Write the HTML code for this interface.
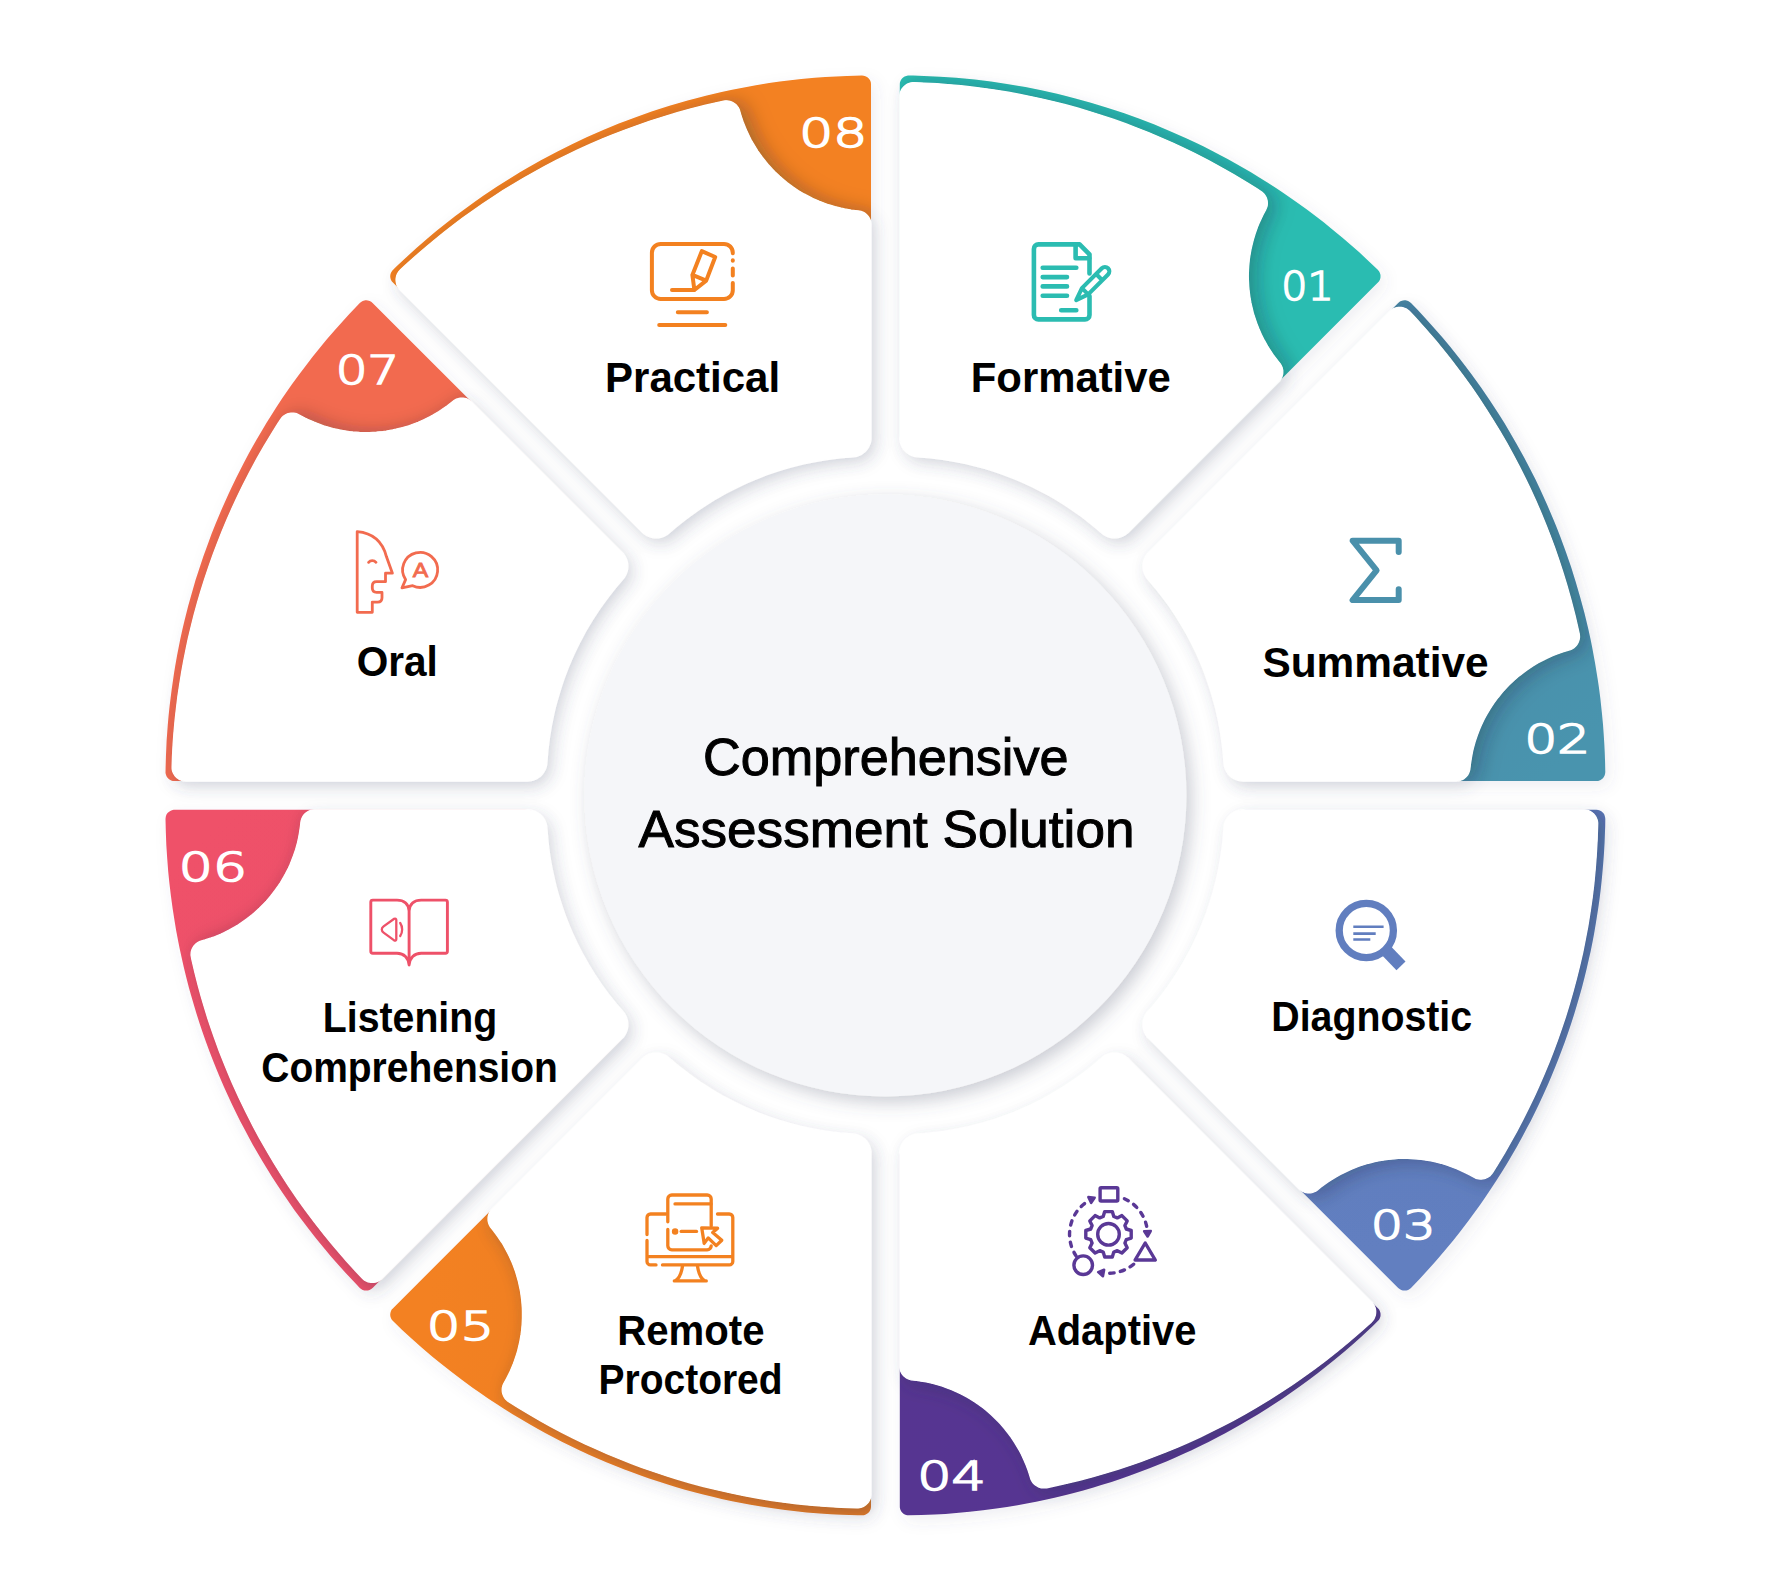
<!DOCTYPE html>
<html lang="en"><head><meta charset="utf-8"><title>Comprehensive Assessment Solution</title>
<style>html,body{margin:0;padding:0;background:#fff}body{width:1770px;height:1591px;overflow:hidden}svg{display:block}text{font-family:"Liberation Sans",sans-serif}.lb{font-weight:700;font-size:43px;fill:#000;text-anchor:middle}.ct{font-size:52.5px;fill:#000;text-anchor:middle;stroke:#000;stroke-width:1px}.nm{font-family:"DejaVu Sans Light","DejaVu Sans","Liberation Sans",sans-serif;font-weight:200;font-size:39px;fill:#fff;stroke:#fff;stroke-width:1.7px;text-anchor:middle}</style></head><body>
<svg width="1770" height="1591" viewBox="0 0 1770 1591">
<defs>
<filter id="sh" x="-10%" y="-10%" width="120%" height="120%"><feDropShadow dx="4.5" dy="5.5" stdDeviation="7.5" flood-color="#50526e" flood-opacity=".17"/></filter>
<filter id="sc" x="-10%" y="-10%" width="120%" height="120%"><feDropShadow dx="4.5" dy="5.5" stdDeviation="7.5" flood-color="#50526e" flood-opacity=".09"/></filter>
<filter id="sd" x="-10%" y="-10%" width="120%" height="120%"><feDropShadow dx="5" dy="6" stdDeviation="9" flood-color="#50526e" flood-opacity=".30"/></filter>
<linearGradient id="g0" gradientUnits="userSpaceOnUse" x1="931" y1="277" x2="1340" y2="290"><stop offset="0" stop-color="#2bbcb1"/><stop offset="1" stop-color="#2bbcb1"/></linearGradient>
<linearGradient id="g1" gradientUnits="userSpaceOnUse" x1="1284" y1="461" x2="1564" y2="760"><stop offset="0" stop-color="#4988a6"/><stop offset="1" stop-color="#4a94ae"/></linearGradient>
<linearGradient id="g2" gradientUnits="userSpaceOnUse" x1="1403" y1="841" x2="1391" y2="1250"><stop offset="0" stop-color="#5d79b9"/><stop offset="1" stop-color="#627fc0"/></linearGradient>
<linearGradient id="g3" gradientUnits="userSpaceOnUse" x1="1220" y1="1194" x2="921" y2="1475"><stop offset="0" stop-color="#5a3795"/><stop offset="1" stop-color="#563491"/></linearGradient>
<linearGradient id="g4" gradientUnits="userSpaceOnUse" x1="840" y1="1313" x2="430" y2="1301"><stop offset="0" stop-color="#e87b22"/><stop offset="1" stop-color="#f38120"/></linearGradient>
<linearGradient id="g5" gradientUnits="userSpaceOnUse" x1="487" y1="1130" x2="206" y2="831"><stop offset="0" stop-color="#ea506a"/><stop offset="1" stop-color="#ef5169"/></linearGradient>
<linearGradient id="g6" gradientUnits="userSpaceOnUse" x1="367" y1="750" x2="380" y2="340"><stop offset="0" stop-color="#f26b4f"/><stop offset="1" stop-color="#f26b4f"/></linearGradient>
<linearGradient id="g7" gradientUnits="userSpaceOnUse" x1="551" y1="397" x2="850" y2="116"><stop offset="0" stop-color="#f38120"/><stop offset="1" stop-color="#f38120"/></linearGradient>
<filter id="si" x="-15%" y="-15%" width="130%" height="130%"><feDropShadow dx="8" dy="1" stdDeviation="10" flood-color="#10202c" flood-opacity=".25"/></filter>
<path id="c0" d="M908.0,75.6 906.2,75.9 904.6,76.6 903.1,77.6 901.8,78.8 900.8,80.3 900.1,81.9 899.9,82.8 899.8,84.6 899.8,435.1 899.9,437.2 900.2,439.3 900.7,441.3 901.4,443.3 902.3,445.2 903.4,447.0 904.7,448.7 906.2,450.2 907.8,451.6 909.5,452.8 911.3,453.8 913.2,454.7 915.2,455.3 917.3,455.8 932.1,457.1 938.0,457.8 945.1,458.8 955.8,460.6 965.2,462.5 976.8,465.3 987.2,468.2 998.7,471.9 1008.8,475.5 1014.4,477.7 1021.0,480.5 1027.6,483.5 1034.1,486.5 1040.5,489.8 1045.8,492.6 1052.1,496.1 1058.3,499.8 1064.4,503.6 1069.4,506.9 1075.3,510.9 1080.2,514.4 1085.0,518.0 1090.7,522.5 1103.0,532.7 1104.8,533.9 1106.7,534.8 1108.6,535.6 1110.7,536.1 1112.7,536.5 1114.9,536.6 1117.0,536.6 1119.0,536.3 1121.1,535.8 1123.1,535.1 1125.0,534.2 1126.8,533.1 1128.5,531.9 1130.1,530.5 1377.9,282.6 1379.1,281.3 1379.9,279.7 1380.4,278.0 1380.5,277.1 1380.5,275.3 1380.4,274.4 1379.8,272.7 1379.0,271.2 1377.8,269.8 1366.9,259.4 1359.0,252.1 1350.9,245.0 1342.8,237.9 1332.4,229.4 1324.0,222.6 1315.5,216.0 1306.9,209.6 1296.0,201.7 1282.7,192.5 1276.0,188.0 1267.0,182.2 1260.1,177.9 1250.9,172.3 1236.9,164.2 1227.6,159.0 1220.4,155.2 1213.3,151.4 1203.7,146.6 1196.4,143.0 1186.7,138.5 1171.9,131.9 1162.0,127.7 1154.5,124.6 1139.5,118.8 1124.3,113.3 1116.6,110.7 1106.4,107.4 1090.9,102.7 1075.4,98.4 1065.0,95.7 1057.1,93.8 1041.4,90.3 1025.5,87.1 1017.6,85.7 1007.0,83.9 991.0,81.6 974.9,79.6 966.9,78.8 956.2,77.8 940.1,76.7 923.9,75.9 913.2,75.6Z"/>
<path id="w0" d="M912.8,82.6 911.4,82.8 910.0,83.1 908.7,83.5 907.4,84.1 906.2,84.8 905.1,85.6 904.0,86.6 903.1,87.6 902.2,88.7 901.5,89.9 900.9,91.1 900.4,92.5 900.0,93.8 899.8,95.2 899.8,96.6 899.8,437.5 899.8,439.5 900.1,441.4 900.6,443.3 901.3,445.1 902.2,446.9 903.2,448.6 904.4,450.1 905.7,451.6 907.2,452.8 908.8,454.0 910.5,454.9 912.3,455.7 914.2,456.3 916.1,456.7 918.1,457.0 924.8,457.4 930.8,458.0 942.6,459.4 954.4,461.4 966.1,463.7 977.7,466.6 984.7,468.5 990.4,470.2 997.2,472.4 1002.8,474.4 1014.0,478.7 1020.6,481.4 1026.1,483.9 1032.6,486.9 1037.9,489.6 1044.3,492.9 1049.5,495.8 1054.7,498.8 1060.8,502.5 1065.9,505.7 1071.8,509.7 1081.5,516.6 1086.3,520.3 1091.9,524.7 1096.5,528.5 1101.7,533.0 1103.2,534.2 1104.8,535.3 1106.6,536.2 1108.4,536.9 1110.3,537.4 1112.2,537.8 1114.2,537.9 1116.2,537.8 1118.1,537.6 1120.0,537.1 1121.9,536.5 1123.6,535.7 1125.3,534.7 1126.9,533.5 1128.4,532.2 1278.7,381.8 1279.7,380.8 1280.5,379.7 1281.2,378.5 1281.8,377.2 1282.2,375.9 1282.6,374.6 1282.8,373.2 1282.8,371.8 1282.8,370.4 1282.5,369.1 1282.2,367.7 1281.7,366.4 1281.1,365.2 1280.4,364.0 1277.1,359.8 1273.1,354.5 1269.5,349.1 1267.6,346.1 1264.4,340.4 1261.4,334.4 1258.7,328.3 1257.4,325.1 1256.3,322.0 1254.2,315.8 1253.2,312.4 1251.7,306.1 1250.9,302.7 1249.8,296.3 1249.0,289.5 1248.7,286.1 1248.4,279.6 1248.3,276.1 1248.5,269.6 1248.7,266.1 1249.3,259.7 1249.8,256.2 1250.9,249.8 1251.7,246.3 1253.3,239.9 1255.2,233.5 1257.4,227.4 1258.7,224.1 1261.4,218.2 1262.9,215.0 1265.6,209.9 1266.2,208.6 1266.7,207.3 1267.1,206.0 1267.3,204.6 1267.4,203.2 1267.3,201.8 1267.1,200.4 1266.7,199.0 1266.3,197.7 1265.7,196.5 1264.9,195.3 1264.1,194.2 1263.1,193.1 1262.1,192.2 1256.6,188.6 1247.7,183.0 1234.0,174.8 1222.5,168.2 1208.5,160.6 1194.4,153.3 1182.5,147.5 1172.8,143.0 1160.7,137.7 1148.5,132.6 1136.2,127.7 1126.2,123.9 1113.7,119.4 1101.2,115.2 1088.5,111.3 1078.2,108.2 1065.5,104.7 1055.1,102.1 1042.3,99.0 1031.8,96.8 1018.8,94.2 1008.3,92.2 995.2,90.1 984.6,88.6 971.5,86.9 960.9,85.7 947.7,84.5 937.0,83.7 923.7,83.0 914.2,82.6Z"/>
<clipPath id="cp0"><use href="#c0"/></clipPath>
<path id="c1" d="M1148.1,577.8 1157.6,589.2 1165.0,598.7 1172.0,608.4 1177.9,617.4 1183.5,626.7 1189.4,637.1 1194.8,647.8 1199.8,658.7 1202.6,665.3 1205.3,672.0 1207.4,677.6 1209.7,684.4 1211.9,691.3 1213.6,697.0 1215.5,704.0 1217.0,709.8 1218.3,715.6 1219.8,722.7 1221.1,729.8 1222.0,735.7 1223.0,742.8 1223.7,748.8 1224.3,754.7 1224.8,761.5 1225.1,763.6 1225.5,765.6 1226.2,767.6 1227.0,769.5 1228.1,771.4 1229.3,773.1 1230.7,774.7 1232.2,776.1 1233.9,777.4 1235.7,778.5 1237.6,779.4 1239.5,780.2 1241.6,780.7 1243.7,781.0 1245.8,781.1 1596.3,781.1 1598.1,780.9 1598.9,780.7 1600.6,780.0 1601.3,779.6 1602.7,778.4 1603.3,777.8 1603.8,777.0 1604.6,775.5 1605.1,773.7 1605.3,772.0 1605.1,762.2 1604.7,751.5 1604.3,743.4 1603.6,732.7 1603.0,724.6 1602.0,713.9 1600.3,697.9 1598.9,687.2 1597.7,679.2 1595.1,663.3 1592.2,647.4 1590.6,639.5 1588.3,629.0 1584.5,613.3 1580.3,597.7 1575.8,582.2 1571.0,566.8 1565.7,551.5 1560.1,536.3 1556.2,526.3 1553.2,518.9 1546.8,504.0 1540.1,489.3 1535.5,479.6 1531.9,472.4 1524.4,458.1 1516.6,443.9 1508.5,429.9 1504.4,423.0 1498.7,413.9 1489.9,400.4 1480.7,387.0 1471.3,373.9 1466.4,367.5 1459.9,359.0 1449.8,346.3 1442.9,338.1 1437.6,331.9 1430.5,323.9 1425.1,317.9 1417.8,310.0 1411.0,303.0 1409.7,301.9 1408.1,301.0 1407.3,300.7 1405.5,300.3 1404.6,300.3 1402.9,300.5 1401.2,301.0 1400.4,301.3 1399.6,301.8 1398.2,302.9 1150.4,550.8 1149.0,552.3 1147.7,554.0 1146.6,555.9 1145.7,557.8 1145.1,559.8 1144.6,561.8 1144.3,563.9 1144.2,566.0 1144.4,568.1 1144.7,570.2 1145.3,572.2 1146.0,574.2 1147.0,576.1Z"/>
<path id="w1" d="M1146.6,577.7 1155.3,588.0 1162.7,597.4 1169.1,606.0 1175.1,615.0 1181.4,625.1 1186.8,634.4 1191.8,643.9 1196.5,653.6 1199.4,660.2 1202.2,666.8 1204.8,673.5 1207.2,680.2 1209.5,687.0 1211.7,693.9 1213.6,700.8 1215.5,707.7 1217.1,714.7 1218.4,720.5 1219.7,727.6 1220.7,733.5 1221.7,740.6 1222.6,747.7 1223.3,754.8 1223.9,762.8 1224.1,764.7 1224.5,766.7 1225.1,768.5 1225.9,770.3 1226.9,772.0 1228.0,773.6 1229.3,775.1 1230.7,776.5 1232.3,777.7 1234.0,778.7 1235.7,779.5 1237.6,780.2 1239.5,780.7 1241.4,781.0 1243.4,781.1 1456.0,781.1 1457.4,781.0 1458.8,780.8 1460.1,780.5 1461.4,780.0 1462.7,779.4 1463.8,778.7 1464.9,777.9 1466.0,776.9 1466.9,775.9 1467.7,774.8 1468.4,773.6 1469.0,772.3 1469.4,771.0 1469.8,769.7 1470.4,764.4 1471.4,757.8 1472.6,751.4 1473.4,748.0 1475.2,741.5 1477.3,735.4 1479.7,729.1 1481.0,725.9 1483.8,720.0 1485.4,716.9 1487.1,714.0 1490.4,708.4 1494.2,702.7 1498.1,697.5 1500.3,694.8 1502.4,692.2 1506.8,687.4 1509.2,684.9 1514.0,680.4 1519.1,675.9 1524.3,671.9 1527.0,670.0 1532.5,666.2 1538.2,662.8 1541.3,661.1 1547.3,658.1 1553.2,655.5 1556.5,654.2 1562.8,651.9 1570.4,649.6 1571.6,649.1 1572.8,648.5 1573.9,647.7 1574.9,646.9 1575.9,645.9 1576.7,644.9 1577.5,643.8 1578.1,642.6 1578.6,641.4 1579.0,640.1 1579.3,638.8 1579.5,637.5 1579.5,636.2 1579.4,634.8 1579.2,633.5 1576.9,623.4 1575.1,615.7 1571.1,600.2 1566.8,584.9 1562.9,572.2 1558.8,559.6 1554.5,547.1 1549.8,534.6 1545.9,524.7 1540.9,512.4 1535.6,500.3 1530.1,488.2 1525.4,478.6 1519.5,466.7 1513.3,455.0 1506.9,443.3 1500.2,431.8 1493.3,420.5 1486.2,409.2 1478.9,398.1 1471.4,387.1 1463.6,376.3 1457.2,367.8 1450.8,359.4 1445.8,353.1 1435.7,340.7 1425.2,328.6 1414.5,316.7 1409.8,311.7 1408.8,310.7 1407.7,309.9 1406.5,309.1 1405.3,308.5 1404.0,308.0 1402.6,307.6 1401.2,307.4 1399.8,307.3 1398.4,307.4 1397.1,307.6 1395.7,307.9 1394.4,308.3 1393.1,308.9 1391.9,309.6 1390.8,310.5 1389.7,311.4 1148.7,552.5 1147.3,553.9 1146.2,555.5 1145.2,557.2 1144.4,559.0 1143.7,560.8 1143.3,562.8 1143.0,564.7 1143.0,566.7 1143.1,568.6 1143.4,570.6 1144.0,572.4 1144.7,574.3 1145.6,576.0Z"/>
<clipPath id="cp1"><use href="#c1"/></clipPath>
<path id="c2" d="M1398.2,1288.0 1399.6,1289.1 1401.2,1289.9 1402.9,1290.4 1404.6,1290.6 1406.4,1290.4 1408.1,1289.9 1409.7,1289.0 1411.0,1287.9 1419.6,1278.9 1428.7,1269.0 1435.9,1261.0 1444.6,1250.8 1453.2,1240.4 1459.9,1231.9 1468.1,1221.3 1474.5,1212.6 1480.7,1203.9 1485.3,1197.2 1491.3,1188.3 1497.2,1179.3 1502.9,1170.2 1507.2,1163.3 1512.6,1154.0 1516.7,1147.0 1521.9,1137.6 1526.9,1128.1 1530.7,1120.9 1535.5,1111.3 1539.0,1104.0 1543.5,1094.3 1547.9,1084.4 1551.1,1077.0 1555.2,1067.1 1558.2,1059.6 1562.0,1049.5 1564.8,1041.9 1568.4,1031.8 1571.0,1024.1 1574.2,1013.9 1576.6,1006.1 1579.6,995.8 1581.8,988.0 1584.5,977.6 1586.4,969.8 1588.8,959.3 1590.6,951.4 1592.7,940.9 1594.2,932.9 1596.0,922.3 1598.1,909.0 1599.6,898.4 1600.9,887.7 1602.0,877.0 1603.2,863.6 1604.0,852.8 1604.6,842.1 1605.2,825.9 1605.3,818.9 1605.1,817.2 1604.6,815.4 1604.3,814.6 1603.3,813.1 1602.7,812.5 1601.3,811.3 1599.8,810.5 1598.1,810.0 1596.3,809.8 1245.8,809.8 1243.7,809.9 1241.6,810.2 1239.5,810.7 1237.6,811.5 1235.7,812.4 1233.9,813.5 1232.2,814.8 1230.7,816.2 1229.3,817.8 1228.1,819.5 1227.0,821.4 1226.2,823.3 1225.5,825.3 1225.1,827.3 1223.7,842.1 1222.9,849.2 1222.1,855.2 1220.5,864.7 1218.4,875.2 1215.9,885.7 1212.6,897.3 1209.0,908.7 1205.3,918.9 1202.7,925.5 1199.9,932.2 1196.9,938.7 1194.3,944.1 1191.6,949.5 1188.3,955.9 1184.7,962.1 1181.1,968.3 1177.3,974.4 1174.0,979.5 1169.9,985.4 1166.4,990.3 1162.1,996.0 1158.4,1000.7 1148.1,1013.1 1147.0,1014.8 1146.0,1016.7 1145.3,1018.7 1144.7,1020.7 1144.4,1022.8 1144.2,1024.9 1144.3,1027.0 1144.6,1029.1 1145.1,1031.1 1145.7,1033.1 1146.6,1035.0 1147.7,1036.9 1149.0,1038.6 1150.4,1040.1Z"/>
<path id="w2" d="M1299.0,1188.8 1300.1,1189.7 1301.2,1190.5 1302.4,1191.2 1303.6,1191.8 1304.9,1192.3 1306.3,1192.6 1307.6,1192.8 1309.0,1192.9 1310.4,1192.8 1311.8,1192.6 1313.1,1192.2 1314.4,1191.8 1315.7,1191.2 1316.8,1190.4 1321.0,1187.1 1326.2,1183.2 1329.1,1181.3 1334.8,1177.7 1340.4,1174.5 1343.6,1172.9 1349.4,1170.1 1352.7,1168.7 1358.9,1166.3 1365.1,1164.3 1368.4,1163.3 1374.7,1161.7 1378.2,1161.0 1384.6,1159.9 1388.1,1159.4 1394.5,1158.8 1398.0,1158.5 1404.5,1158.4 1408.0,1158.4 1414.7,1158.8 1421.4,1159.4 1427.8,1160.4 1431.2,1161.0 1437.6,1162.4 1441.0,1163.3 1447.2,1165.2 1450.5,1166.4 1456.6,1168.7 1459.8,1170.1 1465.7,1172.9 1468.8,1174.5 1474.9,1177.8 1476.1,1178.4 1477.4,1178.7 1478.7,1179.0 1480.1,1179.1 1481.4,1179.1 1482.7,1179.0 1484.1,1178.7 1485.3,1178.4 1486.6,1177.8 1487.8,1177.2 1488.9,1176.5 1490.0,1175.7 1490.9,1174.7 1491.8,1173.7 1492.6,1172.6 1498.0,1164.0 1504.8,1152.6 1510.1,1143.3 1516.6,1131.6 1522.7,1119.9 1528.7,1108.0 1534.5,1096.0 1538.9,1086.3 1544.2,1074.1 1549.3,1061.8 1553.2,1051.8 1557.8,1039.4 1561.3,1029.3 1565.5,1016.7 1569.4,1004.0 1573.1,991.2 1576.5,978.4 1579.7,965.5 1582.7,952.5 1585.3,939.4 1587.8,926.3 1590.3,910.6 1592.2,897.4 1593.8,884.2 1595.3,868.3 1596.3,855.0 1597.2,839.1 1597.7,824.1 1597.7,822.7 1597.5,821.3 1597.2,820.0 1596.7,818.7 1596.1,817.4 1595.4,816.2 1594.6,815.1 1593.7,814.0 1592.7,813.1 1591.6,812.2 1590.4,811.5 1589.1,810.9 1587.8,810.4 1586.5,810.1 1585.1,809.9 1583.7,809.8 1243.4,809.8 1241.4,809.9 1239.5,810.2 1237.6,810.7 1235.7,811.4 1234.0,812.2 1232.3,813.3 1230.7,814.4 1229.3,815.8 1228.0,817.3 1226.9,818.9 1225.9,820.6 1225.1,822.4 1224.5,824.2 1224.1,826.2 1222.9,840.8 1222.2,846.7 1221.2,853.8 1220.1,860.9 1218.8,868.0 1217.6,873.8 1216.0,880.8 1213.0,892.4 1209.9,902.7 1206.5,912.9 1202.6,922.9 1199.9,929.6 1197.5,935.0 1194.5,941.5 1191.8,946.9 1188.5,953.3 1185.6,958.5 1182.7,963.7 1179.0,969.8 1175.8,974.9 1171.8,980.9 1167.7,986.8 1164.2,991.6 1160.6,996.3 1156.1,1002.0 1152.3,1006.6 1147.8,1011.7 1146.6,1013.2 1145.6,1014.9 1144.7,1016.6 1144.0,1018.5 1143.4,1020.4 1143.1,1022.3 1143.0,1024.2 1143.0,1026.2 1143.3,1028.1 1143.7,1030.1 1144.4,1031.9 1145.2,1033.7 1146.2,1035.4 1147.3,1037.0 1148.7,1038.4Z"/>
<clipPath id="cp2"><use href="#c2"/></clipPath>
<path id="c3" d="M899.8,1506.3 899.9,1508.1 900.4,1509.8 901.3,1511.4 902.4,1512.7 903.8,1513.9 905.4,1514.7 907.1,1515.2 908.9,1515.3 921.3,1515.1 934.7,1514.5 945.5,1513.9 958.9,1512.8 969.6,1511.8 983.0,1510.3 996.3,1508.6 1007.0,1507.0 1017.6,1505.2 1028.1,1503.3 1036.1,1501.7 1046.6,1499.5 1054.5,1497.7 1064.9,1495.2 1072.8,1493.2 1083.2,1490.4 1093.5,1487.4 1101.3,1485.1 1111.5,1481.9 1121.7,1478.5 1129.4,1475.8 1139.5,1472.1 1149.5,1468.3 1157.0,1465.3 1167.0,1461.2 1174.4,1458.0 1184.2,1453.6 1191.6,1450.2 1201.2,1445.5 1208.5,1441.9 1218.0,1437.0 1225.2,1433.2 1234.6,1428.0 1241.6,1424.0 1250.9,1418.6 1257.8,1414.4 1266.9,1408.7 1273.8,1404.3 1282.7,1398.4 1289.4,1393.8 1300.4,1386.1 1309.0,1379.7 1317.6,1373.2 1326.1,1366.6 1334.5,1359.8 1344.8,1351.2 1352.9,1344.2 1361.0,1337.0 1372.8,1325.9 1377.8,1321.1 1379.0,1319.7 1379.8,1318.2 1380.4,1316.5 1380.5,1315.6 1380.5,1313.8 1380.4,1312.9 1379.9,1311.2 1379.1,1309.6 1377.9,1308.3 1130.1,1060.4 1128.5,1059.0 1126.8,1057.8 1125.0,1056.7 1123.1,1055.8 1121.1,1055.1 1119.0,1054.6 1117.0,1054.3 1114.8,1054.3 1112.7,1054.4 1110.7,1054.8 1108.6,1055.3 1106.7,1056.1 1104.8,1057.0 1103.0,1058.2 1091.6,1067.7 1086.0,1072.1 1081.2,1075.7 1073.4,1081.3 1064.4,1087.3 1054.2,1093.6 1044.8,1098.9 1034.1,1104.3 1024.3,1108.9 1017.7,1111.8 1011.1,1114.5 1004.3,1117.0 998.7,1119.0 991.9,1121.3 986.1,1123.0 979.2,1125.0 972.2,1126.8 966.4,1128.1 959.3,1129.6 953.5,1130.7 946.4,1131.9 940.4,1132.8 933.3,1133.6 917.3,1135.1 915.2,1135.6 913.2,1136.2 911.3,1137.1 909.5,1138.1 907.8,1139.3 906.2,1140.7 904.7,1142.2 903.4,1143.9 902.3,1145.7 901.4,1147.6 900.7,1149.6 900.2,1151.6 899.9,1153.7 899.8,1155.8Z"/>
<path id="w3" d="M899.8,1366.1 899.8,1367.4 900.0,1368.8 900.4,1370.2 900.8,1371.5 901.4,1372.7 902.1,1373.9 903.0,1375.0 903.9,1376.0 904.9,1376.9 906.1,1377.8 907.3,1378.5 908.5,1379.0 909.8,1379.5 911.2,1379.8 916.5,1380.4 922.9,1381.4 926.4,1382.0 932.9,1383.5 939.1,1385.2 942.5,1386.3 945.6,1387.4 951.7,1389.7 957.8,1392.4 961.0,1394.0 966.7,1397.0 969.7,1398.8 975.2,1402.3 978.1,1404.3 983.4,1408.1 986.1,1410.3 991.0,1414.6 993.6,1417.0 998.2,1421.6 1000.6,1424.1 1004.8,1429.1 1008.9,1434.3 1011.0,1437.2 1014.6,1442.6 1016.4,1445.6 1019.7,1451.2 1021.3,1454.3 1024.0,1460.2 1025.4,1463.4 1027.8,1469.5 1028.9,1472.8 1030.9,1479.2 1031.5,1480.5 1032.2,1481.7 1033.0,1482.8 1033.9,1483.9 1035.0,1484.8 1036.1,1485.6 1037.3,1486.3 1038.5,1486.9 1039.8,1487.4 1041.2,1487.8 1042.5,1488.0 1043.9,1488.0 1045.3,1488.0 1046.7,1487.8 1054.5,1486.1 1067.5,1483.2 1080.3,1480.1 1093.1,1476.7 1105.9,1473.0 1118.5,1469.1 1131.1,1464.9 1141.2,1461.4 1153.6,1456.8 1165.9,1452.0 1178.2,1446.9 1188.0,1442.6 1200.1,1437.1 1212.0,1431.3 1221.6,1426.5 1233.3,1420.4 1245.0,1413.9 1256.6,1407.2 1270.2,1399.0 1281.5,1391.8 1292.6,1384.4 1303.6,1376.8 1314.4,1369.0 1325.1,1361.0 1337.7,1351.1 1348.0,1342.6 1360.2,1332.1 1371.2,1322.2 1372.2,1321.2 1373.1,1320.1 1373.9,1318.9 1374.5,1317.6 1375.0,1316.3 1375.4,1315.0 1375.6,1313.6 1375.7,1312.2 1375.7,1310.8 1375.5,1309.4 1375.2,1308.0 1374.7,1306.7 1374.1,1305.4 1373.4,1304.2 1372.6,1303.0 1371.6,1302.0 1128.4,1058.7 1126.9,1057.4 1125.3,1056.2 1123.6,1055.2 1121.9,1054.4 1120.0,1053.8 1118.1,1053.3 1116.2,1053.1 1114.2,1053.0 1112.2,1053.1 1110.3,1053.5 1108.4,1054.0 1106.6,1054.7 1104.8,1055.6 1103.2,1056.7 1092.0,1066.1 1087.3,1069.9 1081.6,1074.2 1076.8,1077.7 1070.9,1081.8 1064.9,1085.8 1058.8,1089.6 1049.6,1095.1 1040.1,1100.2 1030.5,1105.0 1019.6,1109.9 1014.1,1112.2 1007.4,1114.8 1001.8,1116.9 995.0,1119.2 988.1,1121.4 982.4,1123.1 976.6,1124.6 969.7,1126.4 962.7,1127.9 956.8,1129.1 950.9,1130.2 943.9,1131.3 937.9,1132.1 930.8,1132.9 924.9,1133.5 918.1,1133.9 916.1,1134.2 914.2,1134.6 912.3,1135.2 910.5,1136.0 908.8,1136.9 907.2,1138.1 905.7,1139.3 904.4,1140.8 903.2,1142.3 902.2,1144.0 901.3,1145.8 900.6,1147.6 900.1,1149.5 899.8,1151.4 899.8,1153.4Z"/>
<clipPath id="cp3"><use href="#c3"/></clipPath>
<path id="c4" d="M392.3,1308.9 391.7,1309.6 390.9,1311.2 390.4,1312.9 390.2,1314.7 390.4,1316.5 391.0,1318.2 391.8,1319.7 393.0,1321.1 401.9,1329.7 411.8,1338.8 421.9,1347.7 432.1,1356.4 440.5,1363.2 451.0,1371.6 461.8,1379.7 472.6,1387.7 479.2,1392.3 488.1,1398.4 497.0,1404.3 503.9,1408.7 513.0,1414.4 519.9,1418.6 529.2,1424.0 536.2,1428.0 545.6,1433.2 552.8,1437.0 562.3,1441.9 569.6,1445.5 579.3,1450.2 589.0,1454.7 596.4,1458.0 606.3,1462.2 613.8,1465.3 623.8,1469.2 631.3,1472.1 641.4,1475.8 649.1,1478.5 659.3,1481.8 667.0,1484.3 677.3,1487.4 685.0,1489.7 695.4,1492.5 703.2,1494.5 713.7,1497.1 721.6,1498.9 732.1,1501.2 740.0,1502.8 750.6,1504.7 761.2,1506.5 774.5,1508.6 785.2,1510.0 795.9,1511.3 806.6,1512.4 819.9,1513.5 830.7,1514.2 841.5,1514.8 857.6,1515.3 861.9,1515.3 863.7,1515.2 864.6,1515.0 866.2,1514.3 867.7,1513.3 868.4,1512.7 869.5,1511.4 870.4,1509.8 870.9,1508.1 871.0,1506.3 871.0,1155.8 870.9,1153.7 870.6,1151.6 870.1,1149.6 869.4,1147.6 868.5,1145.7 867.4,1143.9 866.1,1142.2 864.6,1140.7 863.0,1139.3 861.3,1138.1 859.5,1137.1 857.6,1136.2 855.6,1135.6 853.5,1135.1 838.7,1133.8 831.6,1132.9 825.7,1132.1 816.2,1130.5 805.6,1128.4 794.0,1125.6 783.6,1122.7 772.1,1119.0 762.0,1115.4 755.3,1112.7 748.7,1109.9 742.1,1106.9 736.7,1104.4 731.3,1101.7 725.0,1098.3 718.7,1094.8 712.5,1091.1 706.4,1087.3 701.4,1084.0 696.4,1080.7 690.6,1076.5 684.8,1072.2 680.1,1068.4 667.8,1058.2 666.0,1057.0 664.1,1056.1 662.2,1055.3 660.1,1054.8 658.1,1054.4 655.9,1054.3 653.8,1054.3 651.8,1054.6 649.7,1055.1 647.7,1055.8 645.8,1056.7 644.0,1057.8 642.3,1059.0 640.7,1060.4Z"/>
<path id="w4" d="M491.1,1210.1 490.3,1211.2 489.6,1212.4 489.0,1213.7 488.6,1215.0 488.2,1216.3 488.0,1217.7 488.0,1219.1 488.0,1220.5 488.3,1221.8 488.6,1223.2 489.1,1224.5 489.7,1225.7 490.4,1226.9 493.7,1231.1 497.6,1236.3 501.3,1241.8 503.2,1244.8 504.8,1247.7 507.9,1253.5 509.4,1256.6 512.1,1262.6 513.4,1265.8 515.6,1271.9 516.6,1275.3 518.4,1281.7 519.8,1288.1 520.5,1291.5 521.4,1297.9 521.8,1301.4 522.3,1307.9 522.4,1311.4 522.4,1318.1 522.1,1324.6 521.5,1331.2 521.0,1334.7 519.9,1341.1 519.1,1344.6 517.6,1350.9 516.6,1354.2 514.5,1360.4 513.3,1363.7 510.8,1369.7 509.4,1372.9 506.4,1378.7 503.5,1384.1 503.0,1385.3 502.6,1386.6 502.3,1387.9 502.2,1389.3 502.2,1390.6 502.3,1391.9 502.6,1393.3 503.0,1394.5 503.5,1395.8 504.1,1397.0 504.8,1398.1 505.6,1399.2 506.6,1400.1 507.6,1401.0 508.7,1401.8 517.4,1407.2 528.7,1414.1 540.2,1420.7 549.6,1425.9 561.3,1432.1 573.2,1438.1 585.1,1443.9 594.8,1448.3 607.0,1453.7 619.3,1458.8 631.6,1463.6 641.6,1467.4 654.2,1471.8 666.8,1475.9 677.0,1479.1 689.7,1482.8 702.6,1486.3 715.5,1489.5 731.0,1493.0 744.0,1495.7 757.2,1498.1 770.3,1500.3 783.5,1502.2 796.7,1503.8 812.5,1505.4 825.9,1506.5 841.7,1507.4 856.7,1507.9 858.1,1507.9 859.5,1507.7 860.8,1507.4 862.2,1506.9 863.4,1506.4 864.6,1505.7 865.8,1504.8 866.8,1503.9 867.8,1502.9 868.6,1501.8 869.3,1500.6 870.0,1499.3 870.4,1498.0 870.8,1496.7 871.0,1495.3 871.0,1493.9 871.0,1153.4 871.0,1151.4 870.7,1149.5 870.2,1147.6 869.5,1145.8 868.6,1144.0 867.6,1142.3 866.4,1140.8 865.1,1139.3 863.6,1138.1 862.0,1136.9 860.3,1136.0 858.5,1135.2 856.6,1134.6 854.7,1134.2 840.0,1132.9 832.9,1132.1 827.0,1131.3 819.9,1130.2 812.9,1128.9 807.0,1127.7 800.0,1126.1 789.6,1123.4 779.3,1120.3 768.0,1116.5 757.9,1112.7 751.3,1109.9 745.8,1107.5 740.4,1105.0 733.9,1101.9 728.6,1099.1 722.3,1095.7 717.1,1092.7 711.0,1089.0 706.0,1085.8 700.0,1081.9 695.1,1078.5 689.3,1074.3 684.5,1070.6 678.9,1066.2 674.3,1062.4 669.1,1057.9 667.6,1056.7 666.0,1055.6 664.2,1054.7 662.4,1054.0 660.5,1053.5 658.6,1053.1 656.6,1053.0 654.6,1053.1 652.7,1053.3 650.8,1053.8 648.9,1054.4 647.2,1055.2 645.5,1056.2 643.9,1057.4 642.4,1058.7 492.1,1209.1Z"/>
<clipPath id="cp4"><use href="#c4"/></clipPath>
<path id="c5" d="M173.6,809.8 171.9,810.2 170.2,810.9 168.8,811.9 167.5,813.1 166.5,814.6 165.9,816.3 165.7,817.2 165.5,818.9 165.8,831.3 166.3,844.8 167.2,858.2 168.2,871.6 169.3,882.3 170.9,895.7 172.7,909.0 174.8,922.3 176.1,930.3 178.1,940.8 179.7,948.8 182.0,959.3 183.8,967.2 186.3,977.6 189.0,988.0 191.2,995.8 194.2,1006.1 196.6,1013.9 199.8,1024.1 202.4,1031.8 206.0,1042.0 209.7,1052.0 212.6,1059.6 216.6,1069.5 219.7,1077.0 224.0,1086.9 227.3,1094.3 231.8,1104.0 235.3,1111.3 240.1,1120.9 243.9,1128.1 248.9,1137.6 252.8,1144.7 258.2,1154.0 262.3,1161.0 267.8,1170.1 272.1,1177.0 278.0,1186.0 282.5,1192.8 288.5,1201.6 294.7,1210.4 301.1,1219.1 309.3,1229.8 315.9,1238.3 322.7,1246.6 331.4,1256.9 338.5,1265.0 345.7,1273.0 356.8,1284.8 359.8,1287.9 361.1,1289.0 362.7,1289.9 364.4,1290.4 365.3,1290.6 367.0,1290.6 367.9,1290.4 369.6,1289.9 371.2,1289.1 372.6,1288.0 620.4,1040.1 621.8,1038.6 623.1,1036.9 624.2,1035.0 625.1,1033.1 625.7,1031.1 626.2,1029.1 626.5,1027.0 626.6,1024.9 626.4,1022.8 626.1,1020.7 625.5,1018.7 624.8,1016.7 623.8,1014.8 622.7,1013.1 613.2,1001.7 608.7,996.0 605.1,991.3 599.5,983.5 593.6,974.5 587.3,964.2 582.0,954.8 577.0,945.2 571.9,934.4 569.1,927.8 566.4,921.1 563.8,914.4 561.8,908.7 559.6,901.9 557.8,896.2 555.9,889.2 554.1,882.3 552.7,876.4 551.2,869.4 550.1,863.5 548.9,856.4 548.1,850.5 547.2,843.3 545.7,827.3 545.3,825.3 544.6,823.3 543.8,821.4 542.7,819.5 541.5,817.8 540.1,816.2 538.6,814.8 536.9,813.5 535.1,812.4 533.2,811.5 531.3,810.7 529.2,810.2 527.1,809.9 525.0,809.8Z"/>
<path id="w5" d="M200.2,941.3 199.0,941.9 197.8,942.5 196.7,943.3 195.6,944.1 194.7,945.1 193.8,946.1 193.1,947.2 192.4,948.4 191.9,949.6 191.5,950.9 191.2,952.2 191.1,953.5 191.0,954.9 191.2,956.2 191.9,959.8 194.9,972.7 198.2,985.6 201.0,995.8 203.2,1003.4 207.9,1018.7 211.3,1028.7 213.9,1036.2 219.3,1051.2 225.2,1066.1 229.2,1075.8 232.4,1083.2 239.0,1097.7 245.9,1112.1 253.1,1126.2 259.4,1137.9 267.3,1151.8 274.1,1163.2 281.1,1174.5 288.3,1185.6 297.3,1198.8 305.0,1209.6 314.6,1222.4 324.4,1234.9 331.1,1243.1 336.2,1249.2 346.7,1261.3 355.6,1271.1 362.2,1278.1 363.2,1279.1 364.3,1279.9 365.5,1280.7 366.7,1281.3 368.0,1281.8 369.4,1282.1 370.8,1282.3 372.1,1282.4 373.5,1282.4 374.9,1282.2 376.3,1281.9 377.6,1281.4 378.9,1280.8 380.1,1280.1 381.2,1279.3 382.2,1278.3 622.1,1038.4 623.5,1037.0 624.6,1035.4 625.6,1033.7 626.4,1031.9 627.1,1030.1 627.5,1028.1 627.8,1026.2 627.8,1024.2 627.7,1022.3 627.4,1020.3 626.8,1018.5 626.1,1016.6 625.2,1014.9 624.2,1013.2 623.0,1011.7 615.5,1002.9 608.1,993.5 601.7,984.9 595.0,974.9 588.8,964.8 582.9,954.4 577.4,943.7 572.4,932.9 569.5,926.3 566.9,919.7 564.8,914.1 562.4,907.3 560.2,900.5 558.1,893.6 556.2,886.7 554.8,880.9 552.2,869.2 551.1,863.3 549.9,856.3 548.9,849.2 548.1,842.0 546.7,826.2 546.3,824.2 545.7,822.4 544.9,820.6 543.9,818.9 542.8,817.3 541.5,815.8 540.1,814.4 538.5,813.2 536.8,812.2 535.1,811.4 533.2,810.7 531.3,810.2 529.4,809.9 527.4,809.8 314.8,809.8 313.4,809.9 312.0,810.1 310.7,810.4 309.4,810.9 308.1,811.5 307.0,812.2 305.9,813.0 304.8,814.0 303.9,815.0 303.1,816.1 302.4,817.3 301.8,818.6 301.4,819.9 301.0,821.2 300.4,826.5 299.4,833.1 298.2,839.5 297.4,842.9 295.6,849.4 293.5,855.5 291.1,861.8 289.8,865.0 288.4,868.0 285.4,873.8 283.7,876.9 280.4,882.5 278.5,885.4 274.7,890.7 270.5,896.1 266.3,901.1 263.9,903.6 259.3,908.2 254.4,912.7 251.7,915.0 246.5,919.0 243.7,921.0 238.3,924.7 235.3,926.5 229.5,929.8 223.7,932.7 220.5,934.2 214.5,936.7 211.2,937.9 205.0,939.9Z"/>
<clipPath id="cp5"><use href="#c5"/></clipPath>
<path id="c6" d="M165.5,772.9 165.9,774.6 166.5,776.3 167.5,777.8 168.8,779.0 170.2,780.0 171.9,780.7 172.7,780.9 174.5,781.1 525.0,781.1 527.1,781.0 529.2,780.7 531.3,780.2 533.2,779.4 535.1,778.5 536.9,777.4 538.6,776.1 540.1,774.7 541.5,773.1 542.7,771.4 543.8,769.5 544.6,767.6 545.3,765.6 545.7,763.6 547.1,748.8 547.8,742.8 548.7,735.7 550.3,726.2 552.4,715.7 554.9,705.2 558.2,693.6 561.8,682.2 565.5,672.0 567.7,666.5 570.5,659.8 573.4,653.3 576.5,646.8 579.2,641.4 582.5,635.0 586.1,628.8 589.7,622.6 593.5,616.5 596.8,611.4 600.2,606.5 604.4,600.6 608.0,595.8 612.4,590.2 622.7,577.8 623.8,576.1 624.8,574.2 625.5,572.2 626.1,570.2 626.4,568.1 626.6,566.0 626.5,563.9 626.2,561.8 625.7,559.8 625.1,557.8 624.2,555.9 623.1,554.0 621.8,552.3 620.4,550.8 372.6,302.9 371.2,301.8 369.6,301.0 367.9,300.5 366.2,300.3 365.3,300.3 364.4,300.5 362.7,301.0 361.1,301.9 359.8,303.0 349.3,314.0 342.1,321.9 334.9,329.9 326.2,340.1 319.3,348.4 312.6,356.8 306.0,365.4 299.5,374.0 291.6,384.8 282.4,398.1 276.5,407.1 272.1,413.9 266.4,423.0 262.3,430.0 256.8,439.2 252.8,446.2 248.9,453.3 243.9,462.8 236.5,477.2 231.8,486.9 228.4,494.2 221.8,509.0 215.6,523.8 211.6,533.8 208.8,541.4 203.3,556.6 198.2,571.9 195.7,579.6 192.7,589.9 188.3,605.4 184.4,621.1 182.5,629.0 180.2,639.5 177.1,655.3 175.2,665.9 173.9,673.9 171.6,689.9 169.6,705.9 168.5,716.6 167.8,724.6 166.6,740.7 165.9,756.9 165.6,767.6Z"/>
<path id="w6" d="M172.1,768.1 172.2,769.5 172.5,770.8 173.0,772.2 173.6,773.4 174.3,774.6 175.1,775.8 176.0,776.8 177.0,777.8 178.1,778.6 179.3,779.4 180.6,780.0 181.9,780.5 183.3,780.8 184.6,781.0 186.0,781.1 527.4,781.1 529.4,781.0 531.3,780.7 533.2,780.2 535.1,779.5 536.8,778.7 538.5,777.6 540.1,776.5 541.5,775.1 542.8,773.6 543.9,772.0 544.9,770.3 545.7,768.5 546.3,766.7 546.7,764.7 546.9,762.8 547.4,756.1 547.9,750.1 549.4,738.2 551.3,726.4 553.7,714.7 555.3,707.7 556.8,702.0 560.2,690.5 562.0,684.8 564.3,678.0 568.6,666.8 571.4,660.2 573.8,654.8 576.9,648.3 579.5,642.9 582.3,637.6 585.7,631.3 588.7,626.2 592.5,620.0 599.0,610.0 603.1,604.1 606.6,599.3 610.2,594.6 614.7,588.9 618.5,584.3 623.0,579.2 624.2,577.7 625.2,576.0 626.1,574.3 626.8,572.4 627.4,570.5 627.7,568.6 627.8,566.7 627.8,564.7 627.5,562.8 627.1,560.8 626.4,559.0 625.6,557.2 624.6,555.5 623.5,553.9 622.1,552.5 471.8,402.1 470.7,401.2 469.6,400.4 468.4,399.7 467.2,399.1 465.9,398.6 464.5,398.3 463.2,398.1 461.8,398.0 460.4,398.1 459.0,398.3 457.7,398.7 456.4,399.1 455.1,399.7 454.0,400.5 447.3,405.7 441.8,409.6 438.9,411.5 433.3,414.8 430.2,416.5 424.2,419.5 418.1,422.2 412.1,424.5 408.8,425.7 402.5,427.6 395.9,429.2 392.6,429.9 386.2,431.0 382.7,431.5 376.3,432.1 369.4,432.5 362.9,432.5 359.4,432.4 352.9,431.9 349.4,431.5 343.0,430.5 339.6,429.9 333.2,428.5 329.8,427.6 323.6,425.7 317.3,423.4 314.1,422.1 308.1,419.5 305.0,418.0 297.9,414.2 296.6,413.7 295.2,413.4 293.8,413.1 292.4,413.0 291.0,413.1 289.6,413.3 288.2,413.6 286.9,414.1 285.6,414.7 284.4,415.4 283.3,416.3 282.3,417.2 281.3,418.3 277.8,423.7 272.1,432.7 263.9,446.4 257.3,457.9 249.8,471.9 242.5,486.1 236.7,498.0 232.2,507.7 226.9,519.8 221.8,532.0 216.9,544.4 213.1,554.4 208.7,566.9 204.5,579.5 200.5,592.2 197.5,602.4 194.0,615.2 191.4,625.6 188.3,638.5 186.1,648.9 183.5,661.9 181.6,672.4 179.5,685.5 177.9,696.1 176.3,709.3 175.1,719.9 173.9,733.1 173.1,743.8 172.4,757.1 172.1,766.7Z"/>
<clipPath id="cp6"><use href="#c6"/></clipPath>
<path id="c7" d="M392.4,270.5 391.4,271.9 390.7,273.6 390.4,274.4 390.2,276.2 390.4,278.0 390.9,279.7 391.7,281.3 392.9,282.6 640.7,530.5 642.3,531.9 644.0,533.1 645.8,534.2 647.7,535.1 649.7,535.8 651.8,536.3 653.8,536.6 656.0,536.6 658.1,536.5 660.1,536.1 662.2,535.6 664.1,534.8 666.0,533.9 667.8,532.7 679.2,523.2 684.8,518.8 689.6,515.2 698.4,508.9 706.4,503.6 716.6,497.3 726.0,492.0 735.6,487.1 746.5,482.0 751.9,479.6 758.6,476.9 765.3,474.3 772.1,471.9 778.9,469.6 785.8,467.5 792.8,465.6 798.6,464.1 805.6,462.5 811.5,461.3 817.3,460.2 824.4,459.0 831.6,458.0 837.5,457.3 853.5,455.8 855.6,455.3 857.6,454.7 859.5,453.8 861.3,452.8 863.0,451.6 864.6,450.2 866.1,448.7 867.4,447.0 868.5,445.2 869.4,443.3 870.1,441.3 870.6,439.3 870.9,437.2 871.0,435.1 871.0,84.6 870.9,82.8 870.4,81.1 870.0,80.3 869.0,78.8 867.7,77.6 867.0,77.0 865.4,76.2 863.7,75.7 861.9,75.6 846.8,75.9 836.1,76.4 825.3,77.0 814.6,77.8 801.2,79.1 790.5,80.3 779.8,81.6 769.1,83.1 755.9,85.2 740.0,88.2 732.1,89.7 721.6,92.0 705.8,95.7 695.4,98.4 687.6,100.5 677.3,103.5 669.5,105.8 659.3,109.0 651.6,111.6 636.4,116.9 626.3,120.7 618.8,123.6 603.8,129.8 594.0,134.0 586.6,137.3 572.0,144.2 557.5,151.4 548.0,156.4 540.9,160.3 526.8,168.2 519.9,172.3 510.7,177.9 497.1,186.5 483.6,195.5 474.8,201.7 468.3,206.4 455.3,216.0 442.6,226.0 436.3,231.1 428.0,237.9 415.9,248.5 403.9,259.4 396.1,266.8Z"/>
<path id="w7" d="M399.5,270.8 398.6,271.9 397.9,273.1 397.2,274.3 396.7,275.6 396.4,277.0 396.1,278.3 396.0,279.7 396.1,281.2 396.3,282.5 396.6,283.9 397.0,285.2 397.6,286.5 398.4,287.7 399.2,288.8 400.1,289.9 642.4,532.2 643.9,533.5 645.5,534.7 647.2,535.7 648.9,536.5 650.8,537.1 652.7,537.6 654.6,537.8 656.6,537.9 658.6,537.8 660.5,537.4 662.4,536.9 664.2,536.2 666.0,535.3 667.6,534.2 669.1,533.0 674.2,528.6 678.8,524.8 684.5,520.3 689.2,516.7 698.9,509.7 708.9,503.2 714.0,500.0 720.2,496.4 725.4,493.5 731.8,490.1 742.5,484.9 747.9,482.4 754.5,479.6 760.1,477.4 766.8,474.8 778.1,470.9 783.8,469.2 790.7,467.2 797.6,465.4 803.5,464.0 815.2,461.6 826.9,459.6 834.1,458.7 840.0,458.0 845.9,457.4 852.7,457.0 854.7,456.7 856.6,456.3 858.5,455.7 860.3,454.9 862.0,454.0 863.6,452.8 865.1,451.6 866.4,450.1 867.6,448.6 868.6,446.9 869.5,445.1 870.2,443.3 870.7,441.4 871.0,439.5 871.0,437.5 871.0,224.8 871.0,223.5 870.8,222.1 870.4,220.7 870.0,219.4 869.4,218.2 868.7,217.0 867.8,215.9 866.9,214.9 865.9,214.0 864.7,213.1 863.5,212.4 862.3,211.9 861.0,211.4 859.6,211.1 851.2,210.0 844.6,208.9 841.2,208.2 834.9,206.6 828.5,204.7 825.2,203.5 818.9,201.1 813.0,198.5 809.8,196.9 804.1,193.9 798.2,190.4 792.8,186.7 790.1,184.8 787.3,182.7 782.3,178.5 779.7,176.2 774.9,171.7 772.5,169.2 768.1,164.4 765.9,161.7 761.9,156.6 757.9,151.0 754.4,145.3 751.1,139.7 749.5,136.6 746.8,130.7 745.4,127.5 743.0,121.4 740.9,115.1 739.4,110.0 738.9,108.8 738.3,107.6 737.5,106.5 736.7,105.5 735.8,104.5 734.7,103.7 733.6,102.9 732.5,102.3 731.2,101.7 730.0,101.3 728.7,101.0 727.4,100.9 726.0,100.8 724.7,100.9 715.8,102.8 705.5,105.2 690.0,109.1 677.2,112.7 662.0,117.2 649.3,121.3 636.7,125.7 624.3,130.2 611.9,135.1 602.0,139.1 589.8,144.4 577.7,149.9 568.0,154.5 556.2,160.4 544.4,166.5 535.0,171.7 523.4,178.2 514.2,183.7 502.9,190.6 493.9,196.4 482.9,203.8 474.0,209.9 463.3,217.6 454.7,224.0 444.1,232.2 435.8,238.9 425.6,247.4 417.4,254.4 407.5,263.3 400.5,269.8Z"/>
<clipPath id="cp7"><use href="#c7"/></clipPath>
</defs>
<rect width="1770" height="1591" fill="#fff"/>
<circle cx="885.4" cy="795.5" r="301" fill="#f5f6f9" filter="url(#sd)"/>
<g filter="url(#sc)">
<use href="#c0" fill="url(#g0)"/>
<use href="#c1" fill="url(#g1)"/>
<use href="#c2" fill="url(#g2)"/>
<use href="#c3" fill="url(#g3)"/>
<use href="#c4" fill="url(#g4)"/>
<use href="#c5" fill="url(#g5)"/>
<use href="#c6" fill="url(#g6)"/>
<use href="#c7" fill="url(#g7)"/>
</g>
<g clip-path="url(#cp0)"><use href="#w0" fill="#fff" filter="url(#si)"/></g>
<g clip-path="url(#cp1)"><use href="#w1" fill="#fff" filter="url(#si)"/></g>
<g clip-path="url(#cp2)"><use href="#w2" fill="#fff" filter="url(#si)"/></g>
<g clip-path="url(#cp3)"><use href="#w3" fill="#fff" filter="url(#si)"/></g>
<g clip-path="url(#cp4)"><use href="#w4" fill="#fff" filter="url(#si)"/></g>
<g clip-path="url(#cp5)"><use href="#w5" fill="#fff" filter="url(#si)"/></g>
<g clip-path="url(#cp6)"><use href="#w6" fill="#fff" filter="url(#si)"/></g>
<g clip-path="url(#cp7)"><use href="#w7" fill="#fff" filter="url(#si)"/></g>
<use href="#w0" fill="#fff" stroke="#fff" stroke-width="1.2" filter="url(#sh)"/>
<use href="#w1" fill="#fff" stroke="#fff" stroke-width="1.2" filter="url(#sh)"/>
<use href="#w2" fill="#fff" stroke="#fff" stroke-width="1.2" filter="url(#sh)"/>
<use href="#w3" fill="#fff" stroke="#fff" stroke-width="1.2" filter="url(#sh)"/>
<use href="#w4" fill="#fff" stroke="#fff" stroke-width="1.2" filter="url(#sh)"/>
<use href="#w5" fill="#fff" stroke="#fff" stroke-width="1.2" filter="url(#sh)"/>
<use href="#w6" fill="#fff" stroke="#fff" stroke-width="1.2" filter="url(#sh)"/>
<use href="#w7" fill="#fff" stroke="#fff" stroke-width="1.2" filter="url(#sh)"/>
<g fill="none" stroke="#2bbcb1" stroke-width="4.6" stroke-linecap="round" stroke-linejoin="round"><path d="M1089.5,273.5 V254.3 L1079.6,244.4 H1038.4 a4.5,4.5 0 0 0 -4.5,4.5 V314.9 a4.5,4.5 0 0 0 4.5,4.5 H1085 a4.5,4.5 0 0 0 4.5,-4.5 V296"/><path d="M1075.6,244.6 V258.3 H1089.3"/><path d="M1042.7,267.7 H1076.3 M1042.7,277.1 H1067 M1042.7,286.4 H1067 M1042.7,295.7 H1067 M1061.2,310.2 H1076.3"/><g transform="translate(1074.1,302.2) rotate(-45)" stroke-width="4.1"><path d="M3,0 L15.5,-4.4 H43.6 a4.4,4.4 0 0 1 0,8.8 H15.5 Z M15.5,-4.4 V4.4 M35.5,-4.4 V4.4" fill="#fff"/></g></g><g fill="none" stroke="#4a90ab" stroke-width="6.0" stroke-linecap="round" stroke-linejoin="round"><path d="M1398.7,552 V540.7 H1352.6 L1376.6,570.3 L1352.6,600.1 H1398.7 V589.3"/></g><g fill="none" stroke="#617ebf" stroke-width="7.3" stroke-linecap="round" stroke-linejoin="round"><circle cx="1366.3" cy="930.5" r="27.1" stroke-width="7.3"/><path d="M1384.6,948.8 L1401,965.9" stroke-width="12.5" stroke-linecap="butt"/><path d="M1353.3,926.7 H1383.6 M1353.3,933.6 H1375.7 M1353.3,939.5 H1370.3" stroke-width="2.6" stroke-linecap="butt"/></g><g fill="none" stroke="#5a3896" stroke-width="3.4" stroke-linecap="round" stroke-linejoin="round"><path d="M1104.7,1211.6 L1112.3,1211.6 L1113.8,1216.5 L1117.3,1217.9 L1121.9,1215.6 L1127.2,1220.9 L1124.9,1225.5 L1126.3,1229.0 L1131.2,1230.5 L1131.2,1238.1 L1126.3,1239.6 L1124.9,1243.1 L1127.2,1247.7 L1121.9,1253.0 L1117.3,1250.7 L1113.8,1252.1 L1112.3,1257.0 L1104.7,1257.0 L1103.2,1252.1 L1099.7,1250.7 L1095.1,1253.0 L1089.8,1247.7 L1092.1,1243.1 L1090.7,1239.6 L1085.8,1238.1 L1085.8,1230.5 L1090.7,1229.0 L1092.1,1225.5 L1089.8,1220.9 L1095.1,1215.6 L1099.7,1217.9 L1103.2,1216.5Z" stroke-width="3.4"/><circle cx="1108.5" cy="1234.3" r="10.8"/><rect x="1100.1" y="1187.8" width="17.7" height="13.2" rx="1"/><path d="M1145.2,1243 L1155.3,1260 H1135.1 Z"/><circle cx="1083.2" cy="1265.2" r="9.3"/><path d="M1124.4,1198.7 A39.0,39.0 0 0 1 1146.9,1227.5" stroke-dasharray="4.4 6.4"/><path d="M1133.6,1264.2 A39.0,39.0 0 0 1 1107.1,1273.3" stroke-dasharray="4.4 6.4"/><path d="M1076.2,1256.1 A39.0,39.0 0 0 1 1086.7,1202.0" stroke-dasharray="4.4 6.4"/><path d="M1147.6,1236.5 L1150.7,1231.0 L1144.2,1231.3 Z" fill="#5a3896" stroke-width="2.6"/><path d="M1098.2,1272.1 L1102.9,1276.2 L1104.1,1269.8 Z" fill="#5a3896" stroke-width="2.6"/><path d="M1094.6,1197.7 L1088.4,1197.1 L1091.2,1202.9 Z" fill="#5a3896" stroke-width="2.6"/></g><g fill="none" stroke="#f38120" stroke-width="3.3" stroke-linecap="round" stroke-linejoin="round"><path d="M666,1214 H650.5 a3.5,3.5 0 0 0 -3.5,3.5 V1234.5 M647,1240.5 V1261.4 a3.5,3.5 0 0 0 3.5,3.5 H656 M662.5,1264.9 H729.3 a3.5,3.5 0 0 0 3.5,-3.5 V1217.5 a3.5,3.5 0 0 0 -3.5,-3.5 H717.5"/><path d="M648.5,1256.7 H731.5"/><path d="M682.5,1266 C681.5,1273 679,1279 675,1280.9 M697.5,1266 C698.5,1273 701,1279 705,1280.9 M674.3,1280.9 H706.3"/><path d="M667.8,1221.8 V1199 a4,4 0 0 1 4,-4 H707.2 a4,4 0 0 1 4,4 V1226 M667.8,1229.5 V1245.8 a4,4 0 0 0 4,4 H707.2 a4,4 0 0 0 4,-4"/><path d="M675,1203.9 H711"/><circle cx="675.1" cy="1231.4" r="1.6" fill="#f38120"/><path d="M681.2,1231.4 H696.5"/><path d="M701.7,1227.8 L717.6,1228.2 L712.7,1232.6 L721.8,1240.3 L716.2,1245.6 L708.2,1237.9 L704.2,1243.4 Z" fill="#fff"/></g><g fill="none" stroke="#ee5169" stroke-width="2.9" stroke-linecap="round" stroke-linejoin="round"><path d="M409.1,965 V911 M409.1,911 C408.6,904 404,900.1 397,900.1 H372.8 a2,2 0 0 0 -2,2 V951.2 a2,2 0 0 0 2,2 H397 C404,953.2 408.6,958 409.1,965 C409.6,958 414.2,953.2 421.2,953.2 H445.4 a2,2 0 0 0 2,-2 V902.1 a2,2 0 0 0 -2,-2 H421.2 C414.2,900.1 409.6,904 409.1,911"/><path d="M394.2,918.8 C395.3,918.2 396.3,918.8 396.3,920 V939.2 C396.3,940.4 395.3,941 394.2,940.4 L383.6,932.6 C381.2,930.8 381.2,928.2 383.6,926.4 Z M400.2,923 C402.8,926.8 402.8,932.2 400.2,936" stroke-width="2.3"/></g><g fill="none" stroke="#f26b4f" stroke-width="2.8" stroke-linecap="round" stroke-linejoin="round"><path d="M357.2,531.7 V612.3 H372.3 V602.1 H377.6 C380.4,602.1 382,600.5 382,597.7 V592.4 H376.6 C373.8,592.4 372.3,590.9 372.3,588.1 V586 C372.3,583.2 373.8,581.7 376.6,581.7 H385.5 V573.2 H392.4 L386.4,556.6 C382.5,541.5 372,533 357.2,531.7 Z"/><path d="M368.6,562.3 C370.5,560 374,560 376,562.3"/><path d="M405.6,579.6 A17.5,17.5 0 1 1 412.7,585.7 L402,587.9 Z"/></g><g fill="none" stroke="#f38120" stroke-width="4.0" stroke-linecap="round" stroke-linejoin="round"><path d="M732.8,253.2 V252.7 a8.8,8.8 0 0 0 -8.8,-8.8 H660.7 a8.8,8.8 0 0 0 -8.8,8.8 V290.2 a8.8,8.8 0 0 0 8.8,8.8 H724 a8.8,8.8 0 0 0 8.8,-8.8 V283 M732.8,260.2 V260.8 M732.8,268.4 V275.6"/><path d="M677.8,312.2 H706.9 M659.2,325 H725.3"/><path d="M672,290 H694.4 L706.2,280.6 L715.2,257 L701.8,251.2 L692.4,274.9 L694.4,290 M692.4,274.9 L706.2,280.6"/></g><text x="420.4" y="576.6" font-size="20" text-anchor="middle" fill="#f26b4f" stroke="#f26b4f" stroke-width=".8" textLength="15.5" lengthAdjust="spacingAndGlyphs">A</text>
<text class="lb" x="1070.8" y="391.6" textLength="200.0" lengthAdjust="spacingAndGlyphs">Formative</text>
<text class="lb" x="1375.5" y="676.5" textLength="226.2" lengthAdjust="spacingAndGlyphs">Summative</text>
<text class="lb" x="1371.7" y="1030.6" textLength="200.9" lengthAdjust="spacingAndGlyphs">Diagnostic</text>
<text class="lb" x="1112.2" y="1344.7" textLength="168.5" lengthAdjust="spacingAndGlyphs">Adaptive</text>
<text class="lb" x="690.9" y="1345.0" textLength="147.3" lengthAdjust="spacingAndGlyphs">Remote</text>
<text class="lb" x="690.6" y="1394.3" textLength="184.0" lengthAdjust="spacingAndGlyphs">Proctored</text>
<text class="lb" x="410.0" y="1031.9" textLength="174.5" lengthAdjust="spacingAndGlyphs">Listening</text>
<text class="lb" x="409.5" y="1081.6" textLength="296.5" lengthAdjust="spacingAndGlyphs">Comprehension</text>
<text class="lb" x="397.3" y="676.4" textLength="81.2" lengthAdjust="spacingAndGlyphs">Oral</text>
<text class="lb" x="692.6" y="391.6" textLength="175.1" lengthAdjust="spacingAndGlyphs">Practical</text>
<text class="ct" x="885.8" y="775" textLength="365.5" lengthAdjust="spacingAndGlyphs">Comprehensive</text>
<text class="ct" x="886.5" y="847" textLength="496" lengthAdjust="spacingAndGlyphs">Assessment Solution</text>
<text class="nm" x="1307.4" y="300.4" textLength="52.4" lengthAdjust="spacingAndGlyphs">01</text>
<text class="nm" x="1557.2" y="752.8" textLength="65.5" lengthAdjust="spacingAndGlyphs">02</text>
<text class="nm" x="1403.2" y="1239.4" textLength="64.7" lengthAdjust="spacingAndGlyphs">03</text>
<text class="nm" x="951.6" y="1490.2" textLength="68.6" lengthAdjust="spacingAndGlyphs">04</text>
<text class="nm" x="460.5" y="1340.1" textLength="67.4" lengthAdjust="spacingAndGlyphs">05</text>
<text class="nm" x="212.9" y="880.6" textLength="68.1" lengthAdjust="spacingAndGlyphs">06</text>
<text class="nm" x="367.5" y="383.9" textLength="63.7" lengthAdjust="spacingAndGlyphs">07</text>
<text class="nm" x="833.3" y="146.6" textLength="68.0" lengthAdjust="spacingAndGlyphs">08</text>
</svg></body></html>
